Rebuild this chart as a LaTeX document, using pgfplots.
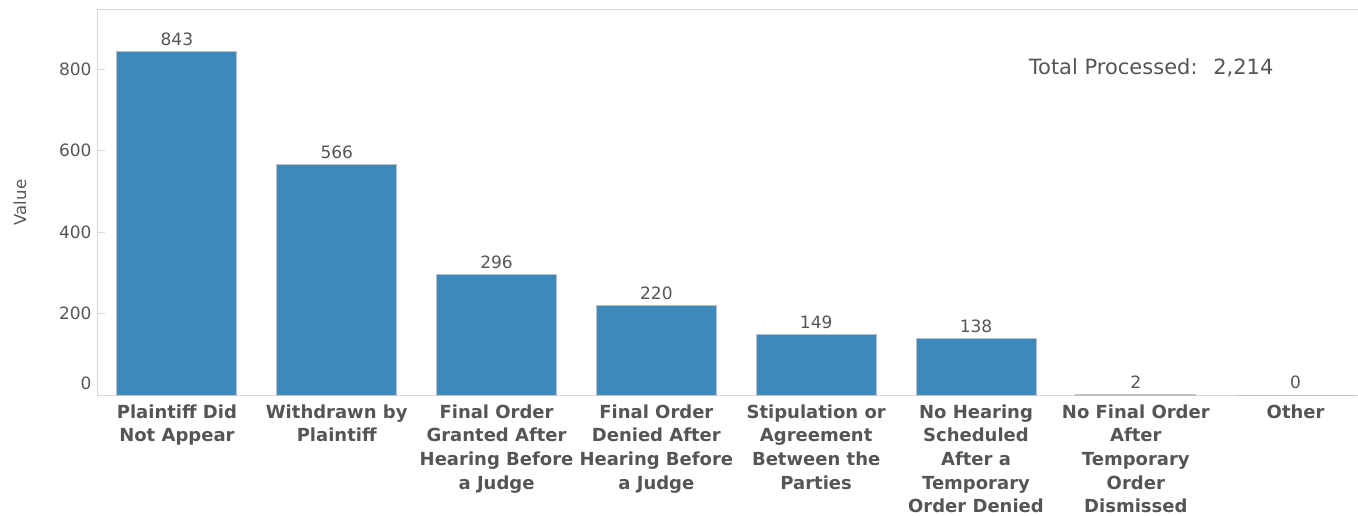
\documentclass[border=0pt]{standalone}
\usepackage{pgfplots}
\pgfplotsset{compat=1.18}
\usepackage{fontspec}
\setmainfont{DejaVu Sans}
\definecolor{barblue}{RGB}{60,137,188}
\definecolor{txtgray}{RGB}{85,85,85}
\definecolor{axgray}{RGB}{215,215,215}
\definecolor{bargray}{RGB}{190,190,190}
\begin{document}
\begin{tikzpicture}
\useasboundingbox (0,0) rectangle (1358bp,516bp);
\begin{axis}[
  at={(97bp,121bp)}, anchor=south west,
  scale only axis,
  width=1261bp, height=385bp,
  xmin=-0.5, xmax=7.39,
  ymin=0, ymax=945,
  axis x line*=bottom, axis y line*=left,
  axis line style={draw=axgray, line width=1bp},
  ytick={200,400,600,800},
  extra y ticks={0},
  extra y tick style={yticklabel style={yshift=12bp}},
  yticklabel style={font=\fontsize{17bp}{20bp}\selectfont, text=txtgray, xshift=-2bp},
  ytick style={draw=axgray, line width=1bp},
  major tick length=8bp,
  /pgf/number format/assume math mode=true,
  xtick={0,1,2,3,4,5,6,7},
  major x tick style={draw=none},
  extra x ticks={-0.5,0.5,1.5,2.5,3.5,4.5,5.5,6.5},
  extra x tick labels={},
  extra x tick style={major tick style={draw=axgray, line width=1bp}, tick align=outside, major tick length=5bp},
  xticklabels={
    {Plaintiff Did\\Not Appear},
    {Withdrawn by\\Plaintiff},
    {Final Order\\Granted After\\Hearing Before\\a Judge},
    {Final Order\\Denied After\\Hearing Before\\a Judge},
    {Stipulation or\\Agreement\\Between the\\Parties},
    {No Hearing\\Scheduled\\After a\\Temporary\\Order Denied},
    {No Final Order\\After\\Temporary\\Order\\Dismissed},
    {Other}},
  xticklabel style={font=\fontsize{18bp}{23.7bp}\selectfont\bfseries, text=txtgray, align=center, anchor=north, yshift=-6bp},
  ylabel={Value},
  every axis y label/.style={at={(axis description cs:0,0.5)}, xshift=-77bp, rotate=90, anchor=center, font=\fontsize{16.5bp}{19bp}\selectfont, text=txtgray},
  clip=false,
]
\addplot[ybar, bar width=120bp, fill=barblue, draw=bargray, line width=1bp,
  nodes near coords,
  nodes near coords style={font=\fontsize{17bp}{20bp}\selectfont, text=txtgray, anchor=south, yshift=2bp},
  point meta=explicit symbolic]
  table[meta=lab] {
x y lab
0 843 843
1 566 566
2 296 296
3 220 220
4 149 149
5 138 138
6 2 2
7 0 0
};
\draw[axgray, line width=1bp] (axis description cs:0,1) -- (axis description cs:1,1);
\node[font=\fontsize{21bp}{24bp}\selectfont, text=txtgray, anchor=center] at (axis description cs:0.836,0.849) {Total Processed:\hspace{0.75em}2,214};
\end{axis}
\end{tikzpicture}
\end{document}
